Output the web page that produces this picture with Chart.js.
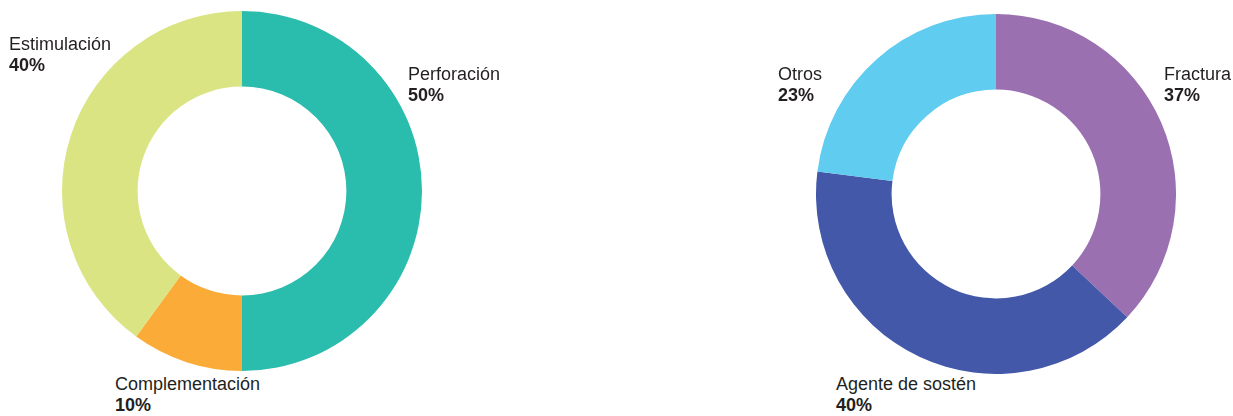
<!DOCTYPE html>
<html>
<head>
<meta charset="utf-8">
<script src="https://cdn.jsdelivr.net/npm/chart.js@4"></script>
<style>
html,body{margin:0;padding:0;background:#fff;}
#wrap{position:relative;width:1233px;height:416px;overflow:hidden;font-family:"Liberation Sans",Arial,sans-serif;color:#231f20;}
.pie{position:absolute;width:360px;height:360px;}
.lbl{position:absolute;font-size:18px;line-height:21px;white-space:nowrap;}
.lbl b{font-weight:bold;}
</style>
</head>
<body>
<div id="wrap">
	<div class="pie" id="p1" style="left:62px;top:11px;"><canvas id="c1"></canvas></div>
	<div class="pie" id="p2" style="left:816px;top:14px;"><canvas id="c2"></canvas></div>
</div>
<script>
// servicios
var cats1 = ['Perforación','Complementación','Estimulación'];
var vals1 = [50,10,40];
var cols1 = ['#2abcac','#fbac38','#dbe483'];

// insumos
var cats2 = ['Fractura','Agente de sostén','Otros'];
var vals2 = [37,40,23];
var cols2 = ['#9b70b1','#4358a8','#5fccf0'];

// where each label sits (left, top)
var pos1 = [[408,64],[115,374],[9,34]];
var pos2 = [[1164,64],[836,374],[778,64]];

let donut=(id,cats,vals,cols)=>{
	new Chart(document.getElementById(id),{
		type:'doughnut',
		data:{
			labels:cats,
			datasets:[{
				data:vals,
				backgroundColor:cols,
				borderWidth:0
			}]
		},
		options:{
			responsive:true,
			maintainAspectRatio:false,
			animation:false,
			cutout:'58%',
			layout:{padding:0},
			plugins:{legend:{display:false},tooltip:{enabled:false}}
		}
	});
}
let labels=(cats,vals,pos)=>{
	let w=document.getElementById('wrap');
	cats.forEach((c,i)=>{
		let d=document.createElement('div');
		d.className='lbl';
		d.style.left=pos[i][0]+'px';
		d.style.top=pos[i][1]+'px';
		d.innerHTML=c+'<br><b>'+vals[i]+'%</b>';
		w.appendChild(d);
	});
}
donut('c1',cats1,vals1,cols1);
donut('c2',cats2,vals2,cols2);
labels(cats1,vals1,pos1);
labels(cats2,vals2,pos2);
</script>
</body>
</html>
